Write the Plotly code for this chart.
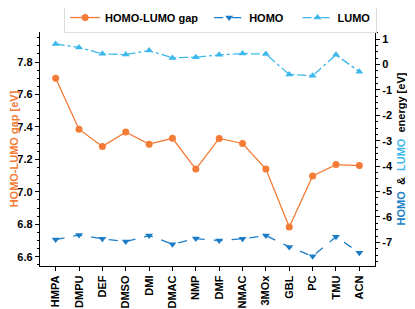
import plotly.graph_objects as go

solvents = ["HMPA", "DMPU", "DEF", "DMSO", "DMI", "DMAC", "NMP", "DMF", "NMAC",
            "3MOx", "GBL", "PC", "TMU", "ACN"]
gap = [7.70, 7.386, 7.28, 7.368, 7.294, 7.33, 7.14, 7.329, 7.298, 7.14, 6.783,
       7.098, 7.168, 7.162]
homo = [-6.89, -6.71, -6.86, -6.97, -6.73, -7.07, -6.85, -6.93, -6.86, -6.73,
        -7.18, -7.55, -6.78, -7.41]
lumo = [0.81, 0.67, 0.42, 0.39, 0.55, 0.26, 0.29, 0.38, 0.43, 0.41, -0.39,
        -0.44, 0.38, -0.28]

left_ticks = [6.6, 6.8, 7.0, 7.2, 7.4, 7.6, 7.8]
right_ticks = [-7, -6, -5, -4, -3, -2, -1, 0, 1]

C_GAP = "#F47B36"
C_HOMO = "#1C7DC6"
C_LUMO = "#3DB8EC"
FONT = "Liberation Sans"

x_idx = list(range(len(solvents)))

fig = go.Figure()
fig.add_trace(go.Scatter(
    x=x_idx, y=gap, name="<b>HOMO-LUMO gap</b>  ", mode="lines+markers",
    line=dict(color=C_GAP, width=1.3),
    marker=dict(symbol="circle", size=7, color=C_GAP),
    yaxis="y"))
fig.add_trace(go.Scatter(
    x=x_idx, y=homo, name="<b>HOMO</b>   ", mode="lines+markers",
    line=dict(color=C_HOMO, width=1.3, dash="dash"),
    marker=dict(symbol="triangle-down", size=7, color=C_HOMO),
    yaxis="y2"))
fig.add_trace(go.Scatter(
    x=x_idx, y=lumo, name="<b>LUMO</b>", mode="lines+markers",
    line=dict(color=C_LUMO, width=1.3, dash="dashdot"),
    marker=dict(symbol="triangle-up", size=7, color=C_LUMO),
    yaxis="y2"))

tickfont = dict(family=FONT, size=11, color="black")

# page body has an 8px margin, so the figure is sized to fit the window
fig.update_layout(
    width=407, height=301,
    margin=dict(l=32, r=40, t=24, b=43, autoexpand=False),
    plot_bgcolor="white", paper_bgcolor="white",
    font=dict(family=FONT, size=11, color="black"),
    showlegend=True,
    legend=dict(orientation="h", x=0.072, xanchor="left", y=1.128, yanchor="top",
                bordercolor="#dddddd", borderwidth=1, bgcolor="white",
                font=dict(family=FONT, size=11, color="black"),
                tracegroupgap=0),
    xaxis=dict(
        range=[-0.67, 13.67], tickmode="array", tickvals=x_idx,
        ticktext=["<b>%s</b>" % s for s in solvents],
        tickangle=-90, tickfont=tickfont,
        showgrid=False, zeroline=False, showline=True, linecolor="black",
        linewidth=1.3, ticks="outside", ticklen=4, tickwidth=1.2, tickcolor="black",
        mirror=False),
    yaxis=dict(
        range=[6.543, 7.985], tickmode="array", tickvals=left_ticks,
        ticktext=["<b>%.1f</b>" % v for v in left_ticks], tickfont=tickfont,
        showgrid=False, zeroline=False, showline=True, linecolor="black",
        linewidth=1.3, ticks="outside", ticklen=4, tickwidth=1.2, tickcolor="black",
        minor=dict(ticks="outside", ticklen=2, dtick=0.05, tick0=6.6,
                   tickcolor="black", tickwidth=1),
        title=dict(text="<b>HOMO-LUMO gap [eV]</b>",
                   font=dict(family=FONT, size=11, color=C_GAP), standoff=8)),
    yaxis2=dict(
        range=[-7.93, 1.28], overlaying="y", side="right",
        tickmode="array", tickvals=right_ticks,
        ticktext=["<b>%d</b>" % v for v in right_ticks], tickfont=tickfont,
        showgrid=False, zeroline=False, showline=True, linecolor="black",
        linewidth=1.3, ticks="outside", ticklen=4, tickwidth=1.2, tickcolor="black",
        minor=dict(ticks="outside", ticklen=2, dtick=0.25, tick0=0,
                   tickcolor="black", tickwidth=1),
        title=dict(text=("<b><span style='color:%s'>HOMO</span>  &  "
                         "<span style='color:%s'>LUMO</span>  energy [eV]</b>")
                   % (C_HOMO, C_LUMO),
                   font=dict(family=FONT, size=11, color="black"), standoff=5)),
)

fig.write_html("out.html")
